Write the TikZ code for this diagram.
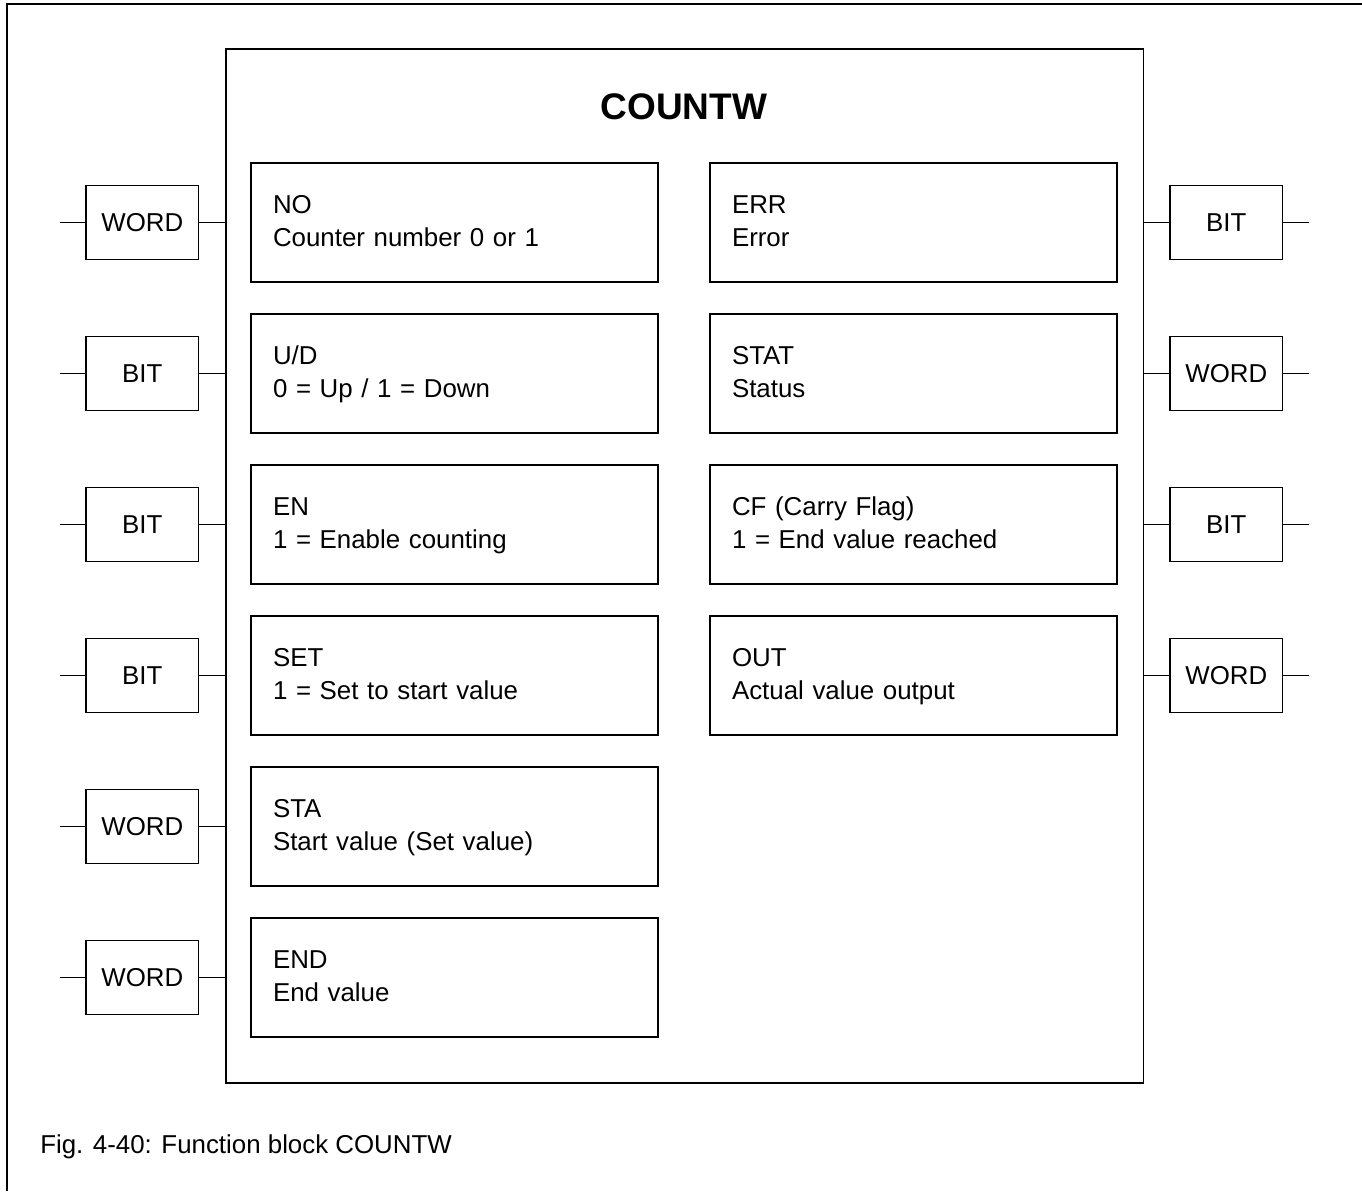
\documentclass[tikz,border=0pt]{standalone}
\usepackage{fontspec}
\setmainfont{Liberation Sans}
\begin{document}
\begin{tikzpicture}[x=0.75pt,y=-0.75pt,
  every node/.style={font=\fontsize{19.4pt}{24.75pt}\selectfont},
  fbox/.style={draw,line width=1pt,minimum width=917.7*0.75pt,minimum height=1034*0.75pt,inner sep=0pt},
  pbox/.style={draw,line width=1pt,minimum width=407*0.75pt,minimum height=119*0.75pt,
    text width=363*0.75pt,inner xsep=22*0.75pt,align=left,text height=20*0.75pt,text depth=38.4*0.75pt},
  tbox/.style={draw,line width=1pt,minimum width=112.5*0.75pt,minimum height=74*0.75pt,inner sep=0pt},
  wire/.style={line width=1pt},
  frame/.style={line width=2.2pt}]
\useasboundingbox (0,0) rectangle (1362,1191);
% outer frame (top and left)
\draw[frame] (7,1191) -- (7,4) -- (1362,4);
% main function block
\node[fbox] (fb) at (684.85,566) {};
\node[anchor=base,font=\fontsize{27.75pt}{30pt}\selectfont\bfseries] (title) at (684,119.3) {COUNTW};
% left parameter boxes
\node[pbox] (no)  at (454.5,222.5) {NO\\Counter number 0 or 1};
\node[pbox] (ud)  at (454.5,373.5) {U/D\\0 = Up / 1 = Down};
\node[pbox] (en)  at (454.5,524.5) {EN\\1 = Enable counting};
\node[pbox] (set) at (454.5,675.5) {SET\\1 = Set to start value};
\node[pbox] (sta) at (454.5,826.5) {STA\\Start value (Set value)};
\node[pbox] (end) at (454.5,977.5) {END\\End value};
% right parameter boxes
\node[pbox] (err)  at (913.5,222.5) {ERR\\Error};
\node[pbox] (stat) at (913.5,373.5) {STAT\\Status};
\node[pbox] (cf)   at (913.5,524.5) {CF (Carry Flag)\\1 = End value reached};
\node[pbox] (out)  at (913.5,675.5) {OUT\\Actual value output};
% left type boxes
\node[tbox] (tl1) at (142.3,222.5) {WORD};
\node[tbox] (tl2) at (142.3,373.5) {BIT};
\node[tbox] (tl3) at (142.3,524.5) {BIT};
\node[tbox] (tl4) at (142.3,675.5) {BIT};
\node[tbox] (tl5) at (142.3,826.5) {WORD};
\node[tbox] (tl6) at (142.3,977.5) {WORD};
% right type boxes
\node[tbox] (tr1) at (1226.3,222.5) {BIT};
\node[tbox] (tr2) at (1226.3,373.5) {WORD};
\node[tbox] (tr3) at (1226.3,524.5) {BIT};
\node[tbox] (tr4) at (1226.3,675.5) {WORD};
% free ends
\foreach \i/\y in {1/222.5,2/373.5,3/524.5,4/675.5,5/826.5,6/977.5}
  \coordinate (ll\i) at (60,\y);
\foreach \i/\y in {1/222.5,2/373.5,3/524.5,4/675.5}
  \coordinate (rr\i) at (1309,\y);
% connectors
\foreach \i in {1,...,6}{
  \draw[wire] (ll\i) -- (tl\i.west);
  \draw[wire] (tl\i.east) -- (tl\i.east -| fb.west);
}
\foreach \i in {1,...,4}{
  \draw[wire] (tr\i.west) -- (tr\i.west -| fb.east);
  \draw[wire] (tr\i.east) -- (rr\i);
}
% caption
\node[anchor=base west,inner sep=0pt] (cap) at (40,1153) {Fig. 4-40: Function block COUNTW};
\end{tikzpicture}
\end{document}
